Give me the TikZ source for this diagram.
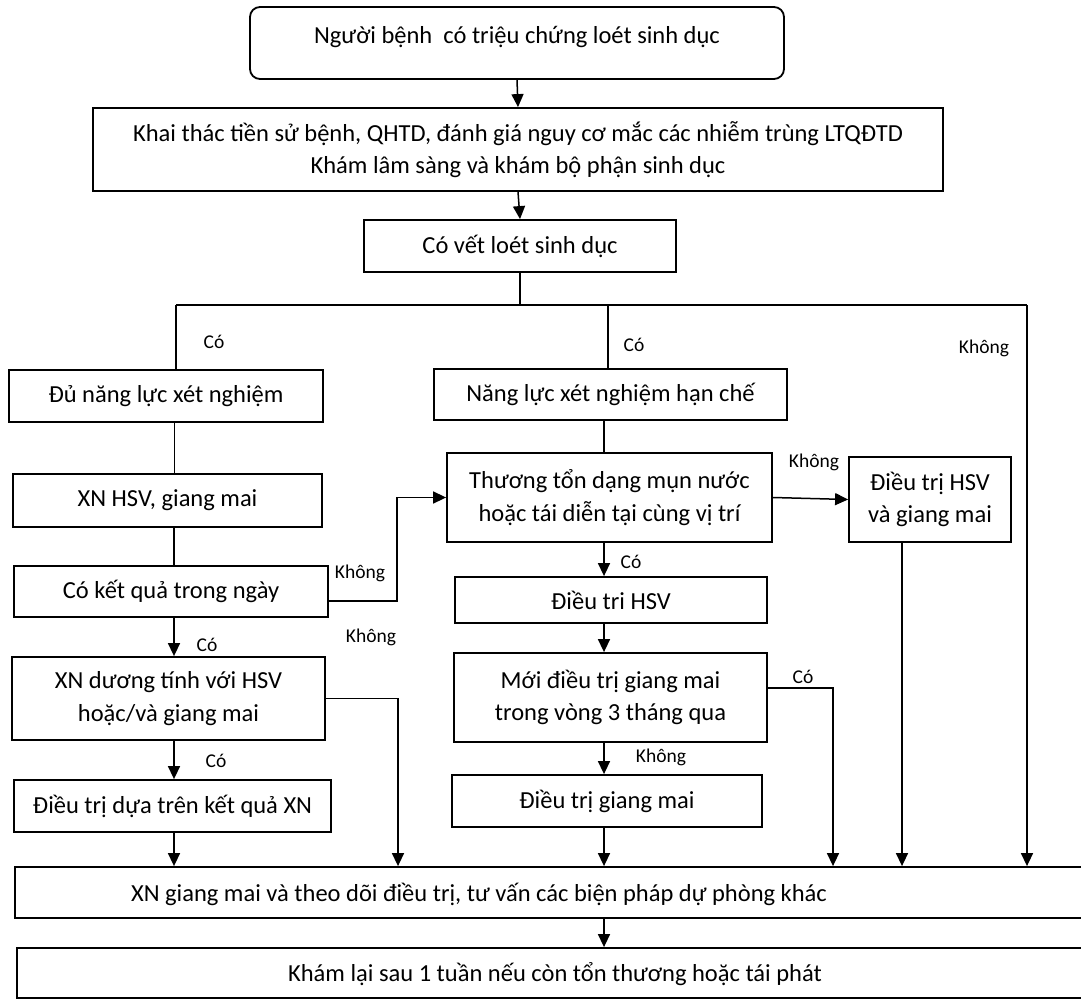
\documentclass[tikz,border=0pt]{standalone}
\usepackage{fontspec}
\setmainfont{Carlito}
\usetikzlibrary{arrows.meta}
\begin{document}
\begin{tikzpicture}[x=1pt,y=-1pt,
 box/.style={draw,line width=1.8pt,inner sep=0pt,align=center,font=\fontsize{24.5}{32.5}\selectfont},
 txt/.style={inner sep=0pt,font=\fontsize{24.5}{32.5}\selectfont},
 lbl/.style={inner sep=0pt,font=\fontsize{19.5}{22}\selectfont},
 conn/.style={line width=1.5pt},
 arr/.style={conn,-{Triangle[length=13pt,width=12pt]}},
]
\useasboundingbox (0,0) rectangle (1081,1000);
\fill[white] (0,0) rectangle (1081,1000);
\clip (0,0) rectangle (1081,1000);

% column guides
\coordinate (cL) at (174,0);
\coordinate (cM) at (604,0);
\coordinate (k1) at (398,0);
\coordinate (k2) at (833,0);
\coordinate (k3) at (397,0);
\coordinate (k4) at (902,0);
\coordinate (busL) at (176,305);
\coordinate (busM) at (608,305);
\coordinate (busR) at (1027,305);

% boxes
\node[box,rounded corners=10pt,minimum width=534pt,minimum height=72pt] (b1) at (517,43) {};
\node[txt] (t1) at (517,37) {Người bệnh\ \ có triệu chứng loét sinh dục};
\node[box,minimum width=850pt,minimum height=83pt] (b2) at (518,149.5)
  {Khai thác tiền sử bệnh, QHTD, đánh giá nguy cơ mắc các nhiễm trùng LTQĐTD\\Khám lâm sàng và khám bộ phận sinh dục};
\node[box,minimum width=312pt,minimum height=52pt] (b3) at (520,246) {Có vết loét sinh dục};

\node[box,minimum width=314pt,minimum height=52pt] (b4) at (166,396) {Đủ năng lực xét nghiệm};
\node[box,minimum width=353pt,minimum height=51pt] (b5) at (610.5,394.5) {Năng lực xét nghiệm hạn chế};
\node[box,minimum width=309pt,minimum height=53pt] (b6) at (167.5,500.5) {XN HSV, giang mai};
\node[box,minimum width=314pt,minimum height=51pt] (b7) at (171,591.5) {Có kết quả trong ngày};
\node[box,minimum width=325pt,minimum height=89pt] (b8) at (609.5,497.5) {Thương tổn dạng mụn nước\\hoặc tái diễn tại cùng vị trí};
\node[box,minimum width=162pt,minimum height=85pt] (b9) at (930,499.5) {Điều trị HSV\\và giang mai};
\node[box,minimum width=312pt,minimum height=46pt] (b10) at (611,600) {Điều tri HSV};
\node[box,minimum width=313pt,minimum height=83pt] (b11) at (168.5,698.5) {XN dương tính với HSV\\hoặc/và giang mai};
\node[box,minimum width=313pt,minimum height=89pt] (b12) at (610.5,697.5) {Mới điều trị giang mai\\trong vòng 3 tháng qua};
\node[box,minimum width=317pt,minimum height=52pt] (b13) at (172.5,806) {Điều trị dựa trên kết quả XN};
\node[box,minimum width=310pt,minimum height=52pt] (b14) at (607,801) {Điều trị giang mai};
\node[box,minimum width=1095pt,minimum height=51pt] (b15) at (562.5,892.5) {};
\node[txt] (t15) at (479,894) {XN giang mai và theo dõi điều trị, tư vấn các biện pháp dự phòng khác};
\node[box,minimum width=1093pt,minimum height=50pt] (b16) at (563.5,973) {};
\node[txt] (t16) at (555,974) {Khám lại sau 1 tuần nếu còn tổn thương hoặc tái phát};

% connectors
\draw[arr] (b1.south) -- (b2.north);
\draw[arr] (b2.south) -- (b3.north);
\draw[conn] (b3.south) -- (b3.south |- busL);
\draw[conn] (busL) -- (busR);
\draw[conn] (busL) -- (busL |- b4.north);
\draw[conn] (busM) -- (busM |- b5.north);
\draw[arr] (busR) -- (busR |- b15.north);

\draw[line width=1pt] (b4.south -| cL) -- (b6.north -| cL);
\draw[line width=2.2pt] (b6.south -| cL) -- (b7.north -| cL);
\draw[arr] (b7.south -| cL) -- (b11.north -| cL);
\draw[arr] ([yshift=-9.5pt]b7.east) -| (k3 |- b8.west) -- (b8.west);
\draw[arr] (b11.south -| cL) -- (b13.north -| cL);
\draw[arr] (b11.east) -| (k1 |- b15.north);
\draw[arr] (b13.south -| cL) -- (b15.north -| cL);

\draw[conn] (b5.south -| cM) -- (b8.north -| cM);
\draw[arr] (b8.east) -- (b9.west);
\draw[arr] (b8.south -| cM) -- (b10.north -| cM);
\draw[arr] (b10.south -| cM) -- (b12.north -| cM);
\draw[arr] ([yshift=9.5pt]b12.east) -| (k2 |- b15.north);
\draw[arr] (b12.south -| cM) -- (b14.north -| cM);
\draw[arr] (b14.south -| cM) -- (b15.north -| cM);
\draw[arr] (b9.south -| k4) -- (b15.north -| k4);
\draw[arr] (b15.south -| cM) -- (b16.north -| cM);

% labels
\node[lbl] (l1) at (214,342) {Có};
\node[lbl] (l2) at (634,345) {Có};
\node[lbl] (l3) at (984,348) {Không};
\node[lbl] (l4) at (360,573) {Không};
\node[lbl] (l5) at (371,637) {Không};
\node[lbl] (l6) at (207,645) {Có};
\node[lbl] (l7) at (814,462) {Không};
\node[lbl] (l8) at (631,562) {Có};
\node[lbl] (l9) at (216,761) {Có};
\node[lbl] (l10) at (803,677) {Có};
\node[lbl] (l11) at (661,757) {Không};
\end{tikzpicture}
\end{document}
